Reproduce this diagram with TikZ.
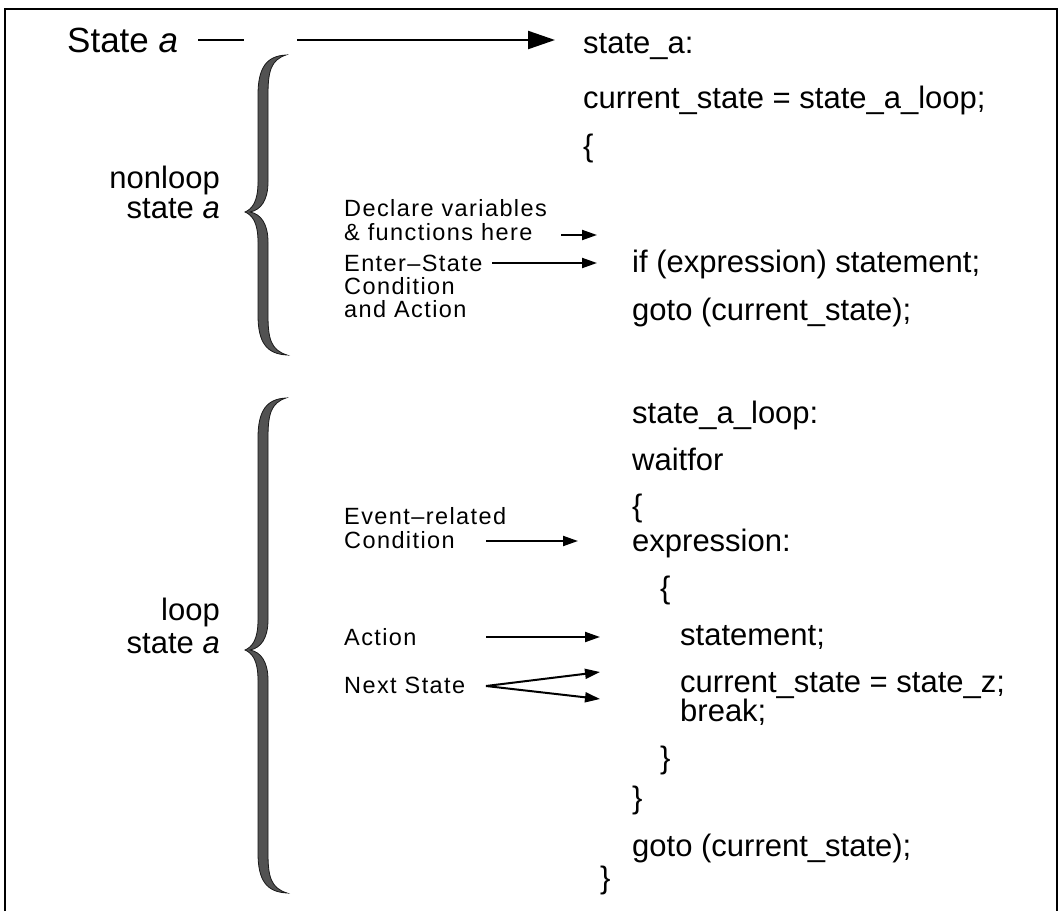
\documentclass[tikz,border=0pt]{standalone}
\usepackage{fontspec}
\setmainfont{Liberation Sans}
\newfontfamily\lblfont[LetterSpace=6]{Liberation Sans}
\usetikzlibrary{arrows.meta}
\newcommand\mybrace[4]{% tip x, tip y, up length, down length
  \begin{scope}[shift={(#1,#2)}]
  \def\brU{#3}\def\brD{#4}
  \path[bracefill] (41,-\brU) .. controls (22,-\brU+1) and (13,-\brU+12) .. (13,-\brU+40)
     -- (13,-30) .. controls (13,-10) and (7,-3) .. (0,0)
     .. controls (7,3) and (13,10) .. (13,30)
     -- (13,\brD-40) .. controls (13,\brD-12) and (22,\brD-1) .. (42,\brD)
     .. controls (26,\brD-5) and (23,\brD-16) .. (23,\brD-40)
     -- (23,30) .. controls (23,12) and (16,2) .. (5,0)
     .. controls (16,-2) and (23,-12) .. (23,-30)
     -- (23,-\brU+40) .. controls (23,-\brU+16) and (26,-\brU+5) .. (41,-\brU) -- cycle;
  \end{scope}}
\begin{document}
\begin{tikzpicture}[x=1pt,y=-1pt,
  code/.style={font=\fontsize{31}{31}\selectfont, inner sep=0pt, anchor=base west},
  lbl/.style={font=\lblfont\fontsize{23.5}{23.5}\selectfont, inner sep=0pt, anchor=base west},
  side/.style={font=\fontsize{31}{31}\selectfont, inner sep=0pt, anchor=base east},
  arr/.style={line width=2pt, -{Triangle[length=15pt,width=10pt]}},
  bigarr/.style={line width=2.2pt, -{Triangle[length=27pt,width=18pt]}},
  plain/.style={line width=2.2pt},
  frame/.style={line width=1.4pt},
  bracefill/.style={fill=black!68, draw=black!90, line width=0.8pt}]
\useasboundingbox (0,0) rectangle (1061,911);
\fill[white] (0,0) rectangle (1061,911);
\draw[frame] (5,911) -- (5,9) -- (1057,9) -- (1057,911);

% top line
\node[code, font=\fontsize{35}{35}\selectfont] (stA) at (67,52) {State \textit{a}};
\coordinate (l1s) at (198,40); \coordinate (l1e) at (244,40);
\coordinate (l2s) at (297,40); \coordinate (l2e) at (555,40);
\draw[plain] (l1s) -- (l1e);
\draw[bigarr] (l2s) -- (l2e);

% code
\node[code] (sa) at (583,53) {state\_a:};
\node[code] (cs) at (583,108) {current\_state = state\_a\_loop;};
\node[code] (ob1) at (583,156) {\{};
\node[code] (ifl) at (632,272) {if (expression) statement;};
\node[code] (goto1) at (632,320) {goto (current\_state);};
\node[code] (sal) at (632,423) {state\_a\_loop:};
\node[code] (wf) at (632,470) {waitfor};
\node[code] (ob2) at (632,516) {\{};
\node[code] (ex) at (632,551) {expression:};
\node[code] (ob3) at (660,598) {\{};
\node[code] (st) at (680,645) {statement;};
\node[code] (csz) at (680,692) {current\_state = state\_z;};
\node[code] (brk) at (680,721) {break;};
\node[code] (cb3) at (660,768) {\}};
\node[code] (cb2) at (632,808) {\}};
\node[code] (goto2) at (632,856) {goto (current\_state);};
\node[code] (cb1) at (600,888) {\}};

% side labels
\node[side] (nl1) at (220,188) {nonloop};
\node[side] (nl2) at (220,218) {state \textit{a}};
\node[side] (lp1) at (220,620) {loop};
\node[side] (lp2) at (220,653) {state \textit{a}};

% braces
\mybrace{245}{212}{157}{143}
\mybrace{245}{650}{252}{243}

% small labels
\node[lbl] (dv1) at (344,216) {Declare variables};
\node[lbl] (dv2) at (344,240) {\& functions here};
\node[lbl] (es1) at (344,271) {Enter–State};
\node[lbl] (es2) at (344,294) {Condition};
\node[lbl] (es3) at (344,317) {and Action};
\node[lbl] (er1) at (344,524) {Event–related};
\node[lbl] (er2) at (344,548) {Condition};
\node[lbl] (ac) at (344,645) {Action};
\node[lbl] (ns) at (344,693) {Next State};

% small arrows
\coordinate (dvS) at (561,235); \coordinate (dvE) at (597,235);
\coordinate (esS) at (492,263); \coordinate (esE) at (597,263);
\coordinate (erS) at (486,541); \coordinate (erE) at (578,541);
\coordinate (acS) at (486,637); \coordinate (acE) at (600,637);
\coordinate (nsS) at (486,686); \coordinate (nsE1) at (600,672); \coordinate (nsE2) at (600,699);
\draw[arr] (dvS) -- (dvE);
\draw[arr] (esS) -- (esE);
\draw[arr] (erS) -- (erE);
\draw[arr] (acS) -- (acE);
\draw[arr] (nsS) -- (nsE1);
\draw[arr] (nsS) -- (nsE2);
\end{tikzpicture}
\end{document}
